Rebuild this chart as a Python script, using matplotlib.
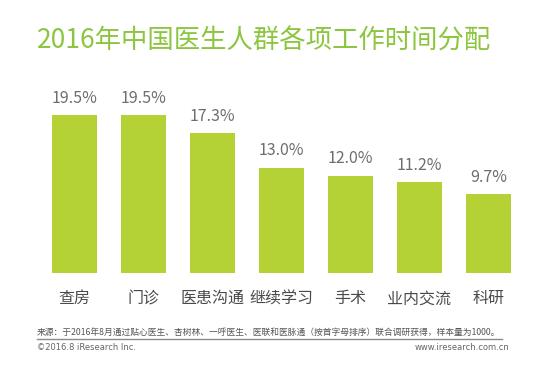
import matplotlib
matplotlib.use("Agg")
import matplotlib.pyplot as plt

plt.rcParams['font.family'] = ['Noto Sans CJK SC', 'DejaVu Sans']

categories = ["查房", "门诊", "医患沟通", "继续学习", "手术", "业内交流", "科研"]
values = [19.5, 19.5, 17.3, 13.0, 12.0, 11.2, 9.7]
value_labels = ["19.5%", "19.5%", "17.3%", "13.0%", "12.0%", "11.2%", "9.7%"]

W, H = 542, 379
fig = plt.figure(figsize=(W / 100, H / 100), dpi=100)
fig.patch.set_facecolor("white")

# axes placed in pixel coordinates: baseline at y=273 from top, top at y=60
ax_bottom = (H - 273) / H
ax_height = (273 - 60) / H
ax = fig.add_axes([0, ax_bottom, 1, ax_height])
ax.set_xlim(-74.5 / 69, (W - 74.5) / 69)
ax.set_ylim(0, 213 / 8.1)
ax.axis("off")

x = list(range(len(categories)))
ax.bar(x, values, width=0.65, color="#b4d235")
for xi, v, lab in zip(x, values, value_labels):
    ax.annotate(lab, (xi, v), xytext=(0, 6), textcoords="offset points",
                ha="center", va="bottom", fontsize=11.5, color="#6e6e6e")

for xi, c in zip(x, categories):
    ax.annotate(c, (xi, 0), xytext=(0, -18.5), textcoords="offset points",
                ha="center", va="center", fontsize=11.5, color="#4a4a4a")

def fy(py):
    return 1 - py / H

fig.text(264 / W, fy(41), "2016年中国医生人群各项工作时间分配", ha="center", va="center",
         fontsize=19, color="#8cc63f")

fig.text(37 / W, fy(332), "来源：于2016年8月通过贴心医生、杏树林、一呼医生、医联和医脉通（按首字母排序）联合调研获得，样本量为1000。",
         ha="left", va="center", fontsize=6.3, color="#555555")
fig.add_artist(plt.Line2D([37 / W, 502 / W], [fy(339), fy(339)], color="#8a8a8a", lw=1))
fig.text(37 / W, fy(348), "©2016.8 iResearch Inc.", ha="left", va="center",
         fontsize=6, color="#666666", family=["DejaVu Sans"])
fig.text(509 / W, fy(348), "www.iresearch.com.cn", ha="right", va="center",
         fontsize=6, color="#666666", family=["DejaVu Sans"])

fig.savefig("out.png", dpi=100)
